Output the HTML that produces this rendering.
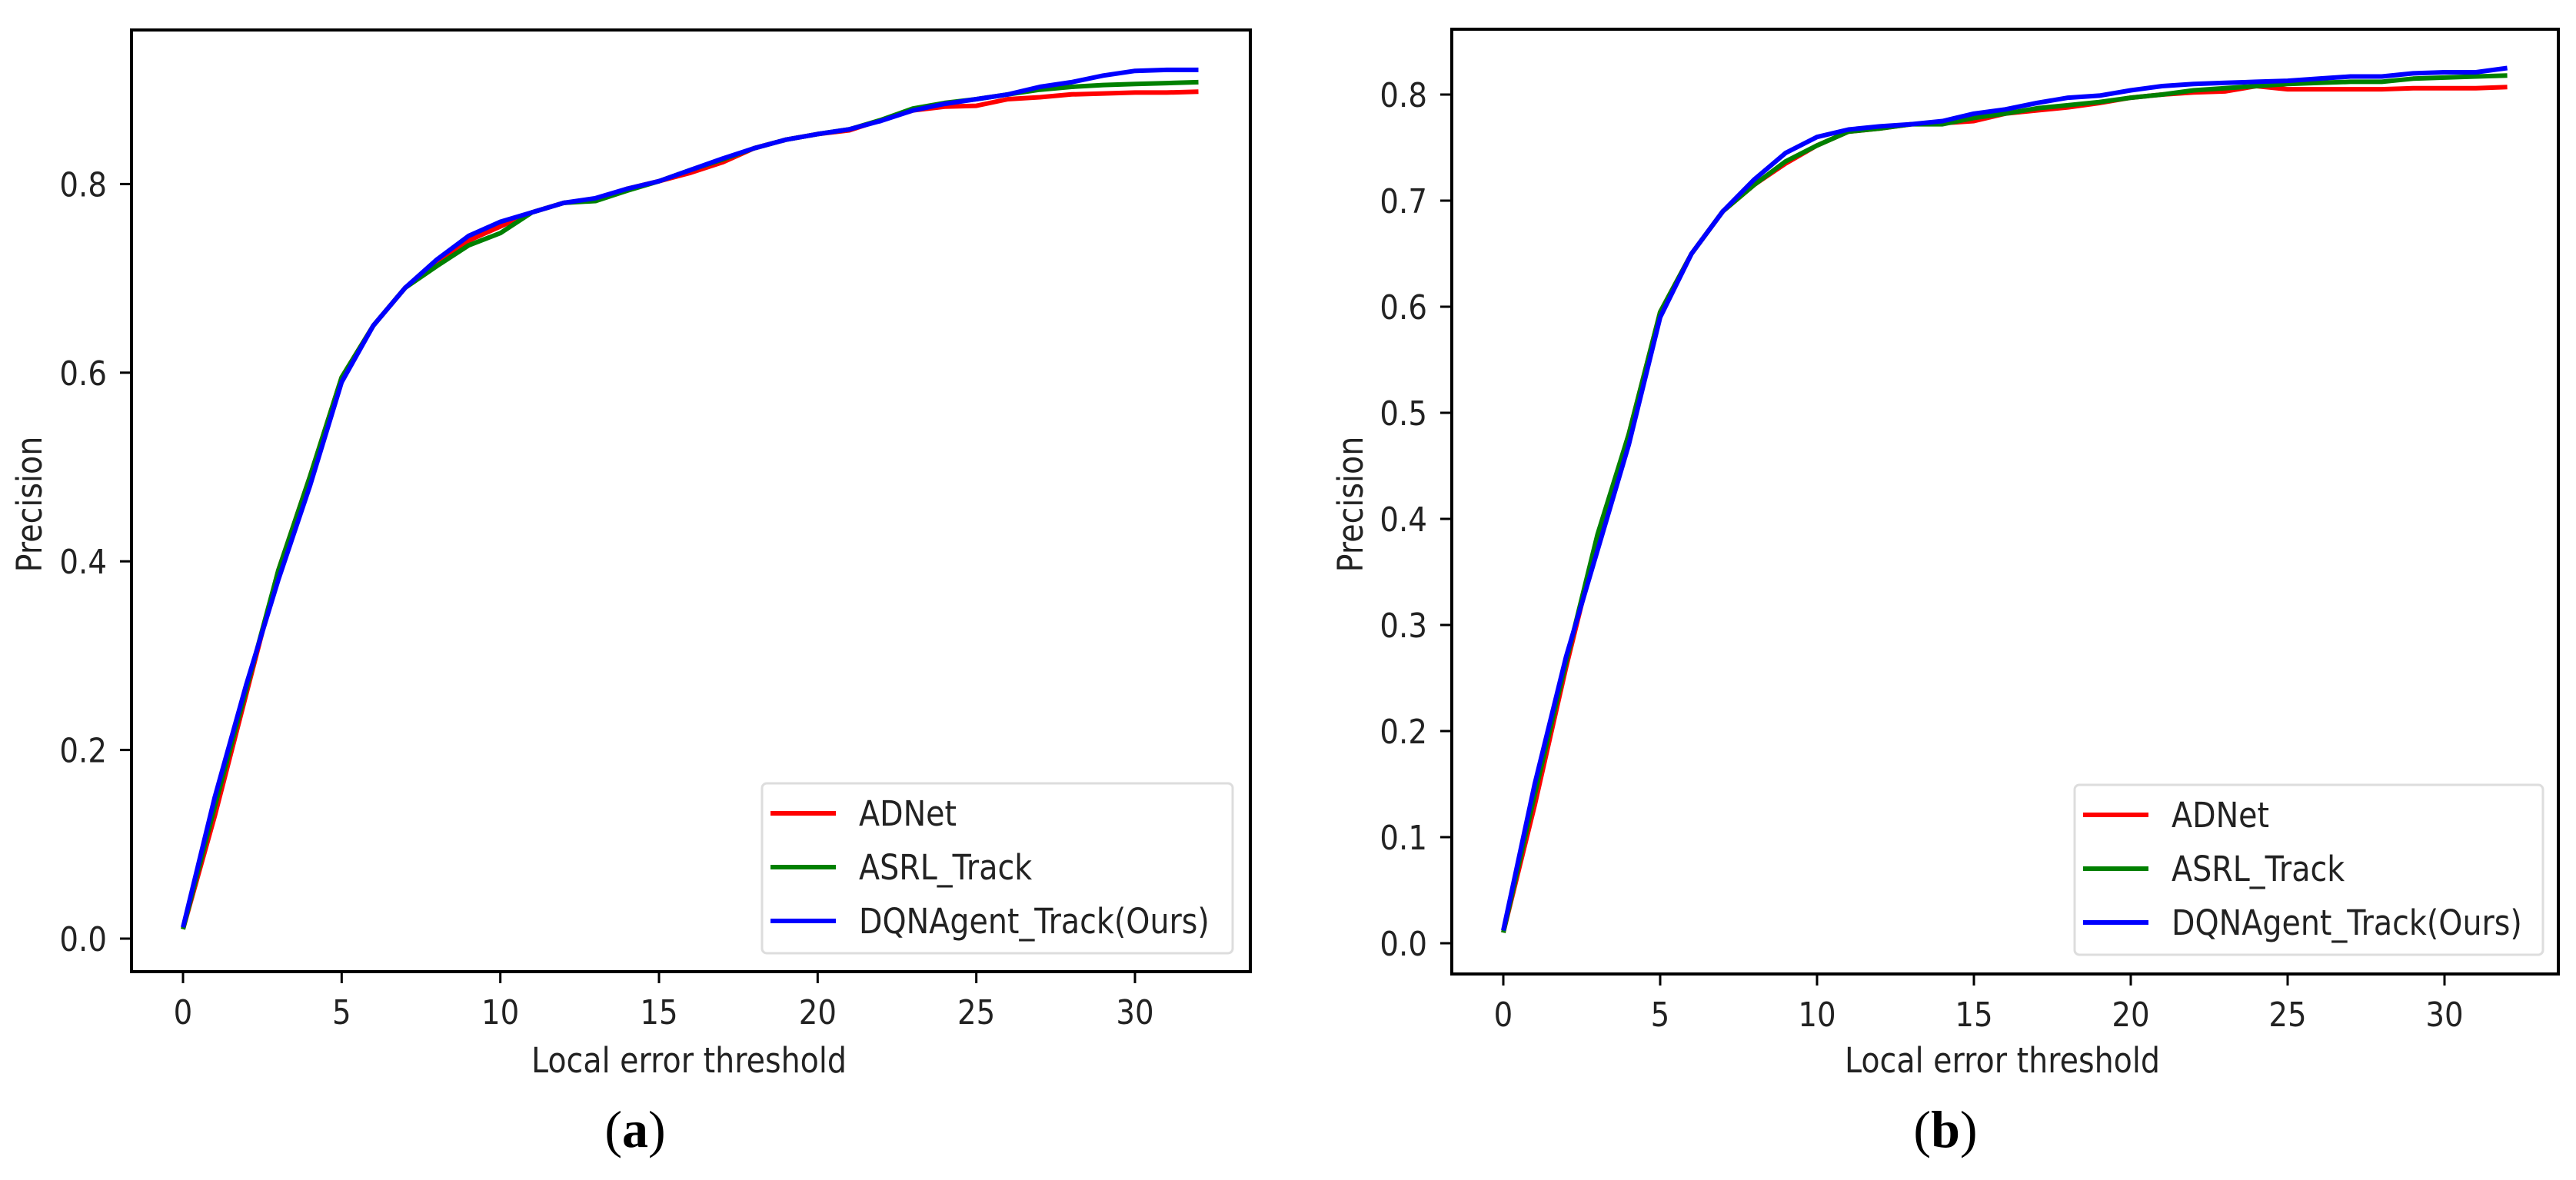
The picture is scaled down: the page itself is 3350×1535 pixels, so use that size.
<!DOCTYPE html>
<html><head><meta charset="utf-8"><style>
html,body{margin:0;padding:0;background:#fff;}
svg{display:block;}
</style></head><body>
<svg id="fig" width="3350" height="1535" viewBox="0 0 3350 1535" xmlns="http://www.w3.org/2000/svg"></svg>
<script>
// ---- data ----
const xValues = [0,1,2,3,4,5,6,7,8,9,10,11,12,13,14,15,16,17,18,19,20,21,22,23,24,25,26,27,28,29,30,31,32];
const seriesNames = ["ADNet","ASRL_Track","DQNAgent_Track(Ours)"];
const seriesColors = ["#ff0000","#008000","#0000ff"];
const aADNet = [0.01,0.13,0.26,0.39,0.49,0.595,0.65,0.69,0.715,0.74,0.755,0.77,0.78,0.783,0.795,0.803,0.812,0.823,0.838,0.847,0.853,0.857,0.868,0.878,0.882,0.883,0.89,0.892,0.895,0.896,0.897,0.897,0.898];
const aASRL = [0.01,0.14,0.265,0.39,0.49,0.595,0.65,0.69,0.713,0.735,0.748,0.77,0.78,0.782,0.793,0.803,0.815,0.826,0.838,0.847,0.853,0.858,0.868,0.88,0.886,0.89,0.895,0.9,0.903,0.905,0.906,0.907,0.908];
const aDQN = [0.012,0.15,0.27,0.38,0.48,0.59,0.65,0.69,0.72,0.745,0.76,0.77,0.78,0.785,0.795,0.803,0.815,0.827,0.838,0.847,0.853,0.858,0.867,0.878,0.885,0.89,0.895,0.903,0.908,0.915,0.92,0.921,0.921];
const bADNet = [0.01,0.13,0.26,0.38,0.48,0.595,0.65,0.69,0.715,0.735,0.752,0.765,0.768,0.772,0.773,0.775,0.782,0.785,0.788,0.792,0.797,0.8,0.802,0.803,0.808,0.805,0.805,0.805,0.805,0.806,0.806,0.806,0.807];
const bASRL = [0.01,0.14,0.265,0.385,0.48,0.595,0.65,0.69,0.715,0.737,0.752,0.765,0.768,0.772,0.772,0.778,0.782,0.787,0.79,0.793,0.797,0.8,0.804,0.806,0.808,0.81,0.811,0.812,0.812,0.815,0.816,0.817,0.818];
const bDQN = [0.012,0.15,0.27,0.37,0.47,0.59,0.65,0.69,0.72,0.745,0.76,0.767,0.77,0.772,0.775,0.782,0.786,0.792,0.797,0.799,0.804,0.808,0.81,0.811,0.812,0.813,0.815,0.817,0.817,0.82,0.821,0.821,0.825];
const xTicks = [0,5,10,15,20,25,30];
const yTicksA = [0.0,0.2,0.4,0.6,0.8];
const yTicksB = [0.0,0.1,0.2,0.3,0.4,0.5,0.6,0.7,0.8];

const NS="http://www.w3.org/2000/svg";
const svg=document.getElementById('fig');
function mk(tag,attrs,parent){const e=document.createElementNS(NS,tag);for(const k in attrs)e.setAttribute(k,attrs[k]);(parent||svg).appendChild(e);return e;}
function txt(s,x,y,size,anchor,parent,rot){
  const t=mk('text',{x:0,y:0,'font-family':'"DejaVu Sans","Liberation Sans",sans-serif','font-size':size,'text-anchor':anchor,fill:'#222',
    transform:'translate('+x+','+y+')'+(rot?' rotate(-90)':'')+' scale(0.88,1)'},parent);
  t.textContent=s;return t;
}

function chart(cfg){
  const g=mk('g',{});
  
  
  const X=v=>cfg.x0+v*(cfg.x30-cfg.x0)/30;
  const Y=v=>cfg.y0-v*cfg.per;
  const fr=mk('rect',{x:cfg.L,y:cfg.T,width:cfg.R-cfg.L,height:cfg.B-cfg.T,fill:'none',stroke:'#000','stroke-width':4},g);
  
  
  xTicks.forEach(v=>{
    const l=mk('line',{x1:X(v),x2:X(v),y1:cfg.B,y2:cfg.B+15,stroke:'#000','stroke-width':3},g);
    
    
    const t=txt(String(v),X(v),cfg.B+68,44,'middle',g);
    
    
  });
  cfg.yTicks.forEach(v=>{
    const l=mk('line',{x1:cfg.L-15,x2:cfg.L,y1:Y(v),y2:Y(v),stroke:'#000','stroke-width':3},g);
    
    
    const t=txt(v.toFixed(1),cfg.L-32,Y(v)+16,44,'end',g);
    
    
  });
  cfg.series.forEach((arr,i)=>{
    const d=arr.map((v,k)=>(k?'L':'M')+X(xValues[k]).toFixed(1)+','+Y(v).toFixed(1)).join(' ');
    const p=mk('path',{d:d,fill:'none',stroke:seriesColors[i],'stroke-width':6,'stroke-linejoin':'round'},g);
    
    
  });
  const lg=mk('g',{},g);
  
  
  mk('rect',{x:cfg.lgL,y:cfg.lgT,width:cfg.lgR-cfg.lgL,height:cfg.lgB-cfg.lgT,rx:6,fill:'#fff','fill-opacity':0.8,stroke:'#ddd','stroke-width':3},lg);
  seriesNames.forEach((n,i)=>{
    const yy=cfg.lgT+39+i*70;
    const e=mk('g',{},lg);
    
    
    mk('line',{x1:cfg.lgL+11,x2:cfg.lgL+96,y1:yy,y2:yy,stroke:seriesColors[i],'stroke-width':6},e);
    txt(n,cfg.lgL+126,yy+16,45,'start',e);
  });
  const xl=txt('Local error threshold',cfg.xLabX,1395,45,'middle',g);
  
  
  const yl=txt('Precision',cfg.yLabX,656,45,'middle',g,true);
  
  
  const cap=mk('text',{x:cfg.capX,y:1492,'font-family':'"Liberation Serif",serif','font-size':68,'text-anchor':'middle',fill:'#000'},g);
  
  
  cap.innerHTML='(<tspan font-weight="bold">'+cfg.cap+'</tspan>)';
}

chart({name:'chart-a',L:171,R:1626,T:39,B:1264,x0:238,x30:1476,y0:1221,per:1227,yTicks:yTicksA,
  series:[aADNet,aASRL,aDQN],lgL:991,lgR:1603,lgT:1019,lgB:1240,yLabX:54,xLabX:896,capX:826,cap:'a'});
chart({name:'chart-b',L:1888,R:3327,T:38,B:1267,x0:1955,x30:3179,y0:1227,per:1380,yTicks:yTicksB,
  series:[bADNet,bASRL,bDQN],lgL:2698,lgR:3307,lgT:1021,lgB:1242,yLabX:1772,xLabX:2604,capX:2530,cap:'b'});
</script>
</body></html>
